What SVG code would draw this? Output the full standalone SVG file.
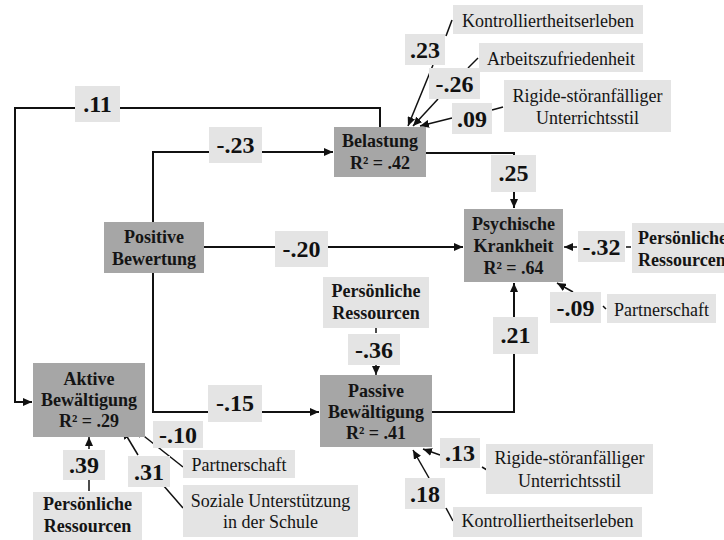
<svg xmlns="http://www.w3.org/2000/svg" width="724" height="540" viewBox="0 0 724 540">
<style>
.node{fill:#a6a6a6}
.lab{fill:#e4e4e4}
.nt{font-family:"Liberation Serif","Times New Roman",serif;font-weight:bold;font-size:18px;fill:#141414;text-anchor:middle}
.ct{font-family:"Liberation Serif","Times New Roman",serif;font-weight:bold;font-size:24px;fill:#111;text-anchor:middle}
.rt{font-family:"Liberation Serif","Times New Roman",serif;font-size:18px;fill:#141414;text-anchor:middle}
.c{fill:none;stroke:#111;stroke-width:2}
.t{fill:none;stroke:#111;stroke-width:1.5}
</style>
<defs>
<marker id="ah" markerUnits="userSpaceOnUse" markerWidth="9" markerHeight="8" refX="9" refY="4" orient="auto">
<path d="M0,0 L9,4 L0,8 z" fill="#111"/>
</marker>
</defs>
<g id="connectors">
<path class="c" d="M380,127 V108 H15 V402 H32" marker-end="url(#ah)"/>
<path class="c" d="M153,222 V152 H333" marker-end="url(#ah)"/>
<path class="c" d="M204,247 H463" marker-end="url(#ah)"/>
<path class="c" d="M153,273 V412 H319" marker-end="url(#ah)"/>
<path class="c" d="M426,153 H514 V208" marker-end="url(#ah)"/>
<path class="c" d="M432,412 H514 V283" marker-end="url(#ah)"/>
<line class="t" x1="433" y1="65" x2="408" y2="126" marker-end="url(#ah)"/>
<line class="t" x1="438" y1="99" x2="413" y2="126" marker-end="url(#ah)"/>
<line class="t" x1="452" y1="118" x2="420" y2="126" marker-end="url(#ah)"/>
<line class="t" x1="446" y1="36" x2="452" y2="20"/>
<line class="t" x1="468" y1="68" x2="478" y2="58"/>
<line class="t" x1="492" y1="110" x2="503" y2="107"/>
<line class="t" x1="577" y1="247" x2="564" y2="247" marker-end="url(#ah)"/>
<line class="t" x1="626" y1="247" x2="631" y2="247"/>
<line class="t" x1="573" y1="292" x2="557" y2="283" marker-end="url(#ah)"/>
<line class="t" x1="603" y1="306" x2="606" y2="309"/>
<line class="t" x1="376" y1="328" x2="376" y2="333"/>
<line class="t" x1="376" y1="365" x2="376" y2="375" marker-end="url(#ah)"/>
<line class="t" x1="89" y1="449" x2="89" y2="437" marker-end="url(#ah)"/>
<line class="t" x1="89" y1="480" x2="89" y2="491"/>
<line class="t" x1="138" y1="455" x2="123" y2="430" marker-end="url(#ah)"/>
<line class="t" x1="163" y1="485" x2="183" y2="508"/>
<line class="t" x1="183" y1="467" x2="135" y2="429" marker-end="url(#ah)"/>
<line class="t" x1="440" y1="455" x2="423" y2="449" marker-end="url(#ah)"/>
<line class="t" x1="482" y1="467" x2="487" y2="470"/>
<line class="t" x1="429" y1="478" x2="413" y2="450" marker-end="url(#ah)"/>
<line class="t" x1="446" y1="508" x2="453" y2="521"/>
</g>
<g id="coefficients">
<rect class="lab" x="75" y="86" width="45" height="36"/><text class="ct" x="97.5" y="112">.11</text>
<rect class="lab" x="209" y="127" width="53" height="36"/><text class="ct" x="235.5" y="153">-.23</text>
<rect class="lab" x="275" y="231" width="53" height="36"/><text class="ct" x="301.5" y="257">-.20</text>
<rect class="lab" x="491" y="155" width="45" height="37"/><text class="ct" x="513.5" y="181">.25</text>
<rect class="lab" x="578" y="231" width="47" height="31"/><text class="ct" x="601.5" y="255">-.32</text>
<rect class="lab" x="550" y="292" width="51" height="31"/><text class="ct" x="575.5" y="316">-.09</text>
<rect class="lab" x="493" y="317" width="45" height="37"/><text class="ct" x="515.5" y="343">.21</text>
<rect class="lab" x="348" y="334" width="52" height="31"/><text class="ct" x="374" y="358">-.36</text>
<rect class="lab" x="208" y="385" width="54" height="37"/><text class="ct" x="235" y="411">-.15</text>
<rect class="lab" x="63" y="450" width="42" height="30"/><text class="ct" x="84" y="473">.39</text>
<rect class="lab" x="128" y="456" width="42" height="31"/><text class="ct" x="149" y="480">.31</text>
<rect class="lab" x="153" y="421" width="50" height="27"/><text class="ct" x="178" y="443">-.10</text>
<rect class="lab" x="440" y="438" width="40" height="30"/><text class="ct" x="460" y="461">.13</text>
<rect class="lab" x="405" y="478" width="40" height="31"/><text class="ct" x="425" y="502">.18</text>
<rect class="lab" x="405" y="34" width="40" height="31"/><text class="ct" x="425" y="58">.23</text>
<rect class="lab" x="429" y="68" width="51" height="31"/><text class="ct" x="454.5" y="92">-.26</text>
<rect class="lab" x="452" y="103" width="40" height="31"/><text class="ct" x="472" y="127">.09</text>
</g>
<g id="belastung"><rect class="node" x="334" y="127" width="92" height="50"/><text class="nt" x="380" y="147">Belastung</text><text class="nt" x="380" y="169">R² = .42</text></g>
<g id="psychische-krankheit"><rect class="node" x="464" y="209" width="99" height="73"/><text class="nt" x="513.5" y="230">Psychische</text><text class="nt" x="513.5" y="252">Krankheit</text><text class="nt" x="513.5" y="274">R² = .64</text></g>
<g id="positive-bewertung"><rect class="node" x="104" y="222" width="100" height="51"/><text class="nt" x="154" y="243">Positive</text><text class="nt" x="154" y="265">Bewertung</text></g>
<g id="passive-bewaeltigung"><rect class="node" x="320" y="375" width="112" height="72"/><text class="nt" x="376" y="397">Passive</text><text class="nt" x="376" y="418">Bewältigung</text><text class="nt" x="376" y="439">R² = .41</text></g>
<g id="aktive-bewaeltigung"><rect class="node" x="33" y="363" width="112" height="74"/><text class="nt" x="89" y="385">Aktive</text><text class="nt" x="89" y="406">Bewältigung</text><text class="nt" x="89" y="427">R² = .29</text></g>
<g id="kontrolliertheit-top"><rect class="lab" x="453" y="5" width="190" height="29"/><text class="rt" x="548" y="27">Kontrolliertheitserleben</text></g>
<g id="arbeitszufriedenheit"><rect class="lab" x="479" y="43" width="164" height="29"/><text class="rt" x="561" y="65">Arbeitszufriedenheit</text></g>
<g id="rigide-top"><rect class="lab" x="504" y="80" width="167" height="52"/><text class="rt" x="587.5" y="102">Rigide-störanfälliger</text><text class="rt" x="587.5" y="124">Unterrichtsstil</text></g>
<g id="ressourcen-right"><rect class="lab" x="632" y="223" width="100" height="50"/><text class="nt" x="638" y="244" style="text-anchor:start">Persönliche</text><text class="nt" x="638" y="266" style="text-anchor:start">Ressourcen</text></g>
<g id="partnerschaft-right"><rect class="lab" x="607" y="294" width="109" height="29"/><text class="rt" x="661.5" y="316">Partnerschaft</text></g>
<g id="ressourcen-mid"><rect class="lab" x="323" y="277" width="106" height="51"/><text class="nt" x="376" y="297">Persönliche</text><text class="nt" x="376" y="319">Ressourcen</text></g>
<g id="rigide-bottom"><rect class="lab" x="486" y="444" width="167" height="50"/><text class="rt" x="569.5" y="464">Rigide-störanfälliger</text><text class="rt" x="569.5" y="487">Unterrichtsstil</text></g>
<g id="kontrolliertheit-bottom"><rect class="lab" x="453" y="507" width="189" height="30"/><text class="rt" x="547.5" y="527">Kontrolliertheitserleben</text></g>
<g id="partnerschaft-bottom"><rect class="lab" x="183" y="450" width="112" height="28"/><text class="rt" x="239" y="471">Partnerschaft</text></g>
<g id="soziale-unterstuetzung"><rect class="lab" x="183" y="485" width="175" height="52"/><text class="rt" x="270.5" y="507">Soziale Unterstützung</text><text class="rt" x="270.5" y="528">in der Schule</text></g>
<g id="ressourcen-bottom"><rect class="lab" x="33" y="492" width="109" height="50"/><text class="nt" x="87.5" y="510">Persönliche</text><text class="nt" x="87.5" y="532">Ressourcen</text></g>
</svg>
